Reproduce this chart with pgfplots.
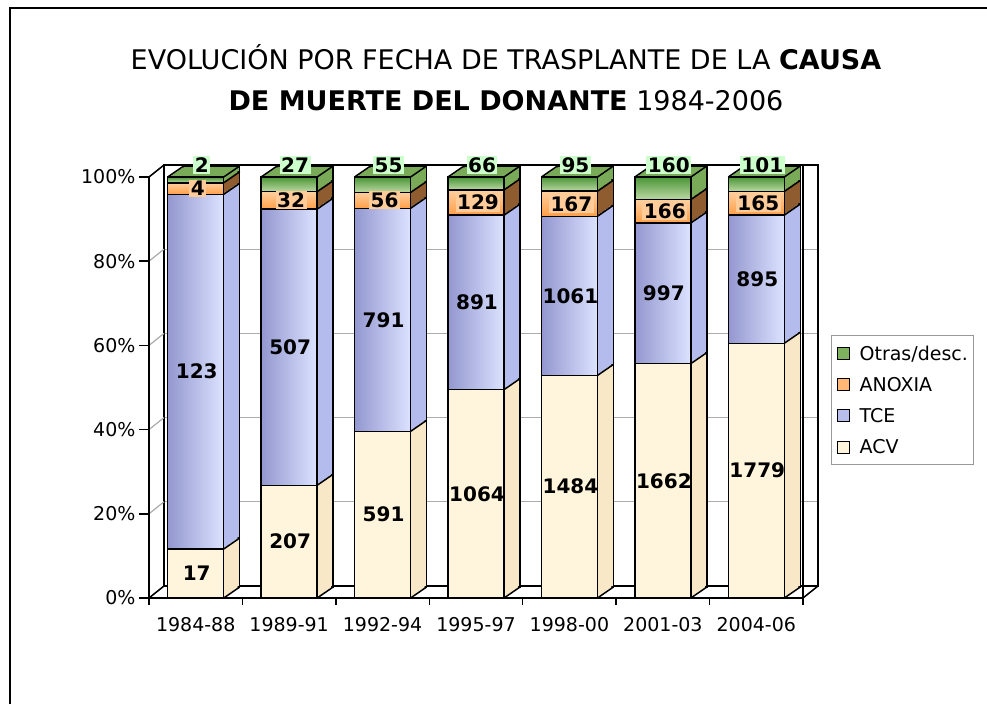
\documentclass[border=0pt]{standalone}
\usepackage{pgfplots}
\pgfplotsset{compat=1.18}
\usepackage{pgfplotstable}
\usepackage{fontspec}
\setmainfont{DejaVu Sans}

\definecolor{acvF}{HTML}{FFF4DC}
\definecolor{acvS}{HTML}{F8E8C8}
\definecolor{tceL}{HTML}{9397CF}
\definecolor{tceR}{HTML}{DCE3FF}
\definecolor{tceM}{HTML}{B8BEEC}
\definecolor{tceS}{HTML}{B4BCEE}
\definecolor{anoT}{HTML}{FFCF9E}
\definecolor{anoB}{HTML}{FF9F48}
\definecolor{anoM}{HTML}{FFB775}
\definecolor{anoS}{HTML}{8E5C2E}
\definecolor{otrT}{HTML}{4A9536}
\definecolor{otrB}{HTML}{BCD9A4}
\definecolor{otrM}{HTML}{7DB35E}
\definecolor{otrS}{HTML}{78AA58}
\definecolor{lblG}{HTML}{CCFFCC}
\definecolor{lblO}{HTML}{FFCC99}

\pgfplotstableread{
cat ACV TCE ANOXIA Otras
0 17 123 4 2
1 207 507 32 27
2 591 791 56 55
3 1064 891 129 66
4 1484 1061 167 95
5 1662 997 166 160
6 1779 895 165 101
}\data

\newcommand{\tot}{(\thisrow{ACV}+\thisrow{TCE}+\thisrow{ANOXIA}+\thisrow{Otras})}

\tikzset{lbl/.style={font=\fontsize{20}{24}\selectfont\bfseries, anchor=center, inner sep=1.5pt}}
\pgfplotsset{
  basebars/.style={scale only axis, width=654pt, height=421pt,
    xmin=-0.5, xmax=6.5, ymin=0, ymax=100, anchor=south west, clip=false},
  copybars/.style={basebars, hide axis, ybar stacked, bar width=0.6},
}

\begin{document}
\begin{tikzpicture}
\path[use as bounding box] (0,0) rectangle (987pt,704pt);
% outer border
\draw[black, line width=2pt] (10pt,0pt) -- (10pt,695.5pt) -- (987pt,695.5pt);

% title
\node[font=\fontsize{27}{32}\selectfont, anchor=base] at (506pt,634pt)
  {EVOLUCIÓN POR FECHA DE TRASPLANTE DE LA \textbf{CAUSA}};
\node[font=\fontsize{27}{32}\selectfont, anchor=base] at (506pt,593pt)
  {\textbf{DE MUERTE DEL DONANTE} 1984-2006};

% back wall
\begin{axis}[basebars, at={(164pt,118pt)}, axis line style={black, line width=1.5pt},
  xtick=\empty, ytick={20,40,60,80}, yticklabels={}, tick style={draw=none},
  ymajorgrids, grid style={gray!65, line width=1.2pt}]
\addplot[draw=none] coordinates {(0,0)};
\end{axis}
% side walls / floor edges
\foreach \p in {20,40,60,80} {
  \draw[gray!65, line width=1.2pt] (149pt,{106pt+4.21pt*\p}) -- ++(15pt,12pt);
}
\draw[black, line width=1.5pt] (149pt,527pt) -- (164pt,539pt);
\draw[black, line width=1.5pt] (149pt,106pt) -- (164pt,118pt);
\draw[black, line width=1.5pt] (803pt,106pt) -- (818pt,118pt);
\draw[black, line width=1.5pt] (803pt,106pt) -- (803pt,539pt);

% farthest copy (with outlines)
\begin{axis}[copybars, at={(165pt,117pt)}]
\addplot[fill=acvS, draw=black, line width=1.5pt] table[x=cat, y expr=100*\thisrow{ACV}/\tot] {\data};
\addplot[fill=tceS, draw=black, line width=1.5pt] table[x=cat, y expr=100*\thisrow{TCE}/\tot] {\data};
\addplot[fill=anoS, draw=black, line width=1.5pt] table[x=cat, y expr=100*\thisrow{ANOXIA}/\tot] {\data};
\addplot[fill=otrS, draw=black, line width=1.5pt] table[x=cat, y expr=100*\thisrow{Otras}/\tot] {\data};
\end{axis}
% intermediate copies
\foreach \k in {7,6,5,4,3,2,1} {
\begin{axis}[copybars, at={({149pt+\k*2pt},{106pt+\k*1.375pt})}]
\addplot[fill=acvS, draw=none] table[x=cat, y expr=100*\thisrow{ACV}/\tot] {\data};
\addplot[fill=tceS, draw=none] table[x=cat, y expr=100*\thisrow{TCE}/\tot] {\data};
\addplot[fill=anoS, draw=none] table[x=cat, y expr=100*\thisrow{ANOXIA}/\tot] {\data};
\addplot[fill=otrS, draw=none] table[x=cat, y expr=100*\thisrow{Otras}/\tot] {\data};
\end{axis}
}

% front axis (flat colours, axes, legend)
\begin{axis}[basebars, at={(149pt,106pt)}, ybar stacked, bar width=0.6,
  axis lines*=left, axis line style={black, line width=1.5pt},
  /pgf/number format/assume math mode=true,
  ytick={0,20,40,60,80,100}, yticklabel={\pgfmathprintnumber{\tick}\%},
  xtick={0,...,6}, xticklabels={1984-88,1989-91,1992-94,1995-97,1998-00,2001-03,2004-06},
  minor xtick={-0.5,0.5,...,6.5},
  tick align=outside, major tick length=10pt, minor tick length=7pt,
  tick style={black, line width=1.5pt}, major x tick style={draw=none},
  tick label style={font=\fontsize{19}{22}\selectfont},
  x tick label style={yshift=-6pt},
  legend image code/.code={\draw[#1, draw=black, line width=1pt] (2pt,-6pt) rectangle (14pt,6pt);
    \path[draw=none, fill=none] (0pt,0pt) -- (22pt,0pt);},
  reverse legend,
  legend style={at={(1.0428,0.6247)}, anchor=north west, draw=gray!80, line width=1.2pt,
    font=\fontsize{19}{22}\selectfont, row sep=11.5pt, inner xsep=4pt, inner ysep=8pt,
    cells={anchor=west}},
]
\addplot[fill=acvF, draw=black, line width=1.5pt] table[x=cat, y expr=100*\thisrow{ACV}/\tot] {\data};
\addplot[fill=tceM, draw=black, line width=1.5pt] table[x=cat, y expr=100*\thisrow{TCE}/\tot] {\data};
\addplot[fill=anoM, draw=black, line width=1.5pt] table[x=cat, y expr=100*\thisrow{ANOXIA}/\tot] {\data};
\addplot[fill=otrM, draw=black, line width=1.5pt] table[x=cat, y expr=100*\thisrow{Otras}/\tot] {\data};
\legend{ACV,TCE,ANOXIA,Otras/desc.}
\end{axis}

% per-category front faces with gradients
\foreach \k [evaluate=\k as \kk using int(\k+1)] in {0,...,6} {
\begin{axis}[copybars, at={(149pt,106pt)}]
\addplot[fill=acvF, draw=black, line width=1.5pt, skip coords between index={0}{\k}, skip coords between index={\kk}{7}]
  table[x=cat, y expr=100*\thisrow{ACV}/\tot] {\data};
\addplot[left color=tceL, right color=tceR, draw=black, line width=1.5pt, skip coords between index={0}{\k}, skip coords between index={\kk}{7}]
  table[x=cat, y expr=100*\thisrow{TCE}/\tot] {\data};
\addplot[top color=anoT, bottom color=anoB, draw=black, line width=1.5pt, skip coords between index={0}{\k}, skip coords between index={\kk}{7}]
  table[x=cat, y expr=100*\thisrow{ANOXIA}/\tot] {\data};
\addplot[top color=otrT, bottom color=otrB, draw=black, line width=1.5pt, skip coords between index={0}{\k}, skip coords between index={\kk}{7}]
  table[x=cat, y expr=100*\thisrow{Otras}/\tot] {\data};
\end{axis}
}

% edges and labels
\begin{axis}[basebars, at={(149pt,106pt)}, hide axis]
\addplot[black, line width=1.5pt, quiver={u=0.1713,v=2.613}] table[x expr=\thisrow{cat}+0.3, y expr=0] {\data};
\addplot[black, line width=1.5pt, quiver={u=0.1713,v=2.613}] table[x expr=\thisrow{cat}+0.3, y expr=100*\thisrow{ACV}/\tot] {\data};
\addplot[black, line width=1.5pt, quiver={u=0.1713,v=2.613}] table[x expr=\thisrow{cat}+0.3, y expr=100*(\thisrow{ACV}+\thisrow{TCE})/\tot] {\data};
\addplot[black, line width=1.5pt, quiver={u=0.1713,v=2.613}] table[x expr=\thisrow{cat}+0.3, y expr=100*(\thisrow{ACV}+\thisrow{TCE}+\thisrow{ANOXIA})/\tot] {\data};
\addplot[black, line width=1.5pt, quiver={u=0.1713,v=2.613}] table[x expr=\thisrow{cat}+0.3, y expr=100] {\data};
\addplot[black, line width=1.5pt, quiver={u=0.1713,v=2.613}] table[x expr=\thisrow{cat}-0.3, y expr=100] {\data};

\addplot[draw=none, nodes near coords, point meta=explicit symbolic,
  nodes near coords style={lbl, xshift=1pt}]
  table[x=cat, y expr=100*(\thisrow{ACV}/2)/\tot, meta=ACV] {\data};
\addplot[draw=none, nodes near coords, point meta=explicit symbolic,
  nodes near coords style={lbl, xshift=1pt}]
  table[x=cat, y expr=100*(\thisrow{ACV}+\thisrow{TCE}/2)/\tot, meta=TCE] {\data};
\addplot[draw=none, nodes near coords, point meta=explicit symbolic,
  nodes near coords style={lbl, fill=lblO, xshift=2pt}]
  table[x=cat, y expr=100*(\thisrow{ACV}+\thisrow{TCE}+\thisrow{ANOXIA}/2)/\tot, meta=ANOXIA] {\data};
\addplot[draw=none, nodes near coords, point meta=explicit symbolic,
  nodes near coords style={lbl, fill=lblG, xshift=6pt, yshift=12pt}]
  table[x=cat, y expr=100, meta=Otras] {\data};
\end{axis}
\end{tikzpicture}
\end{document}
